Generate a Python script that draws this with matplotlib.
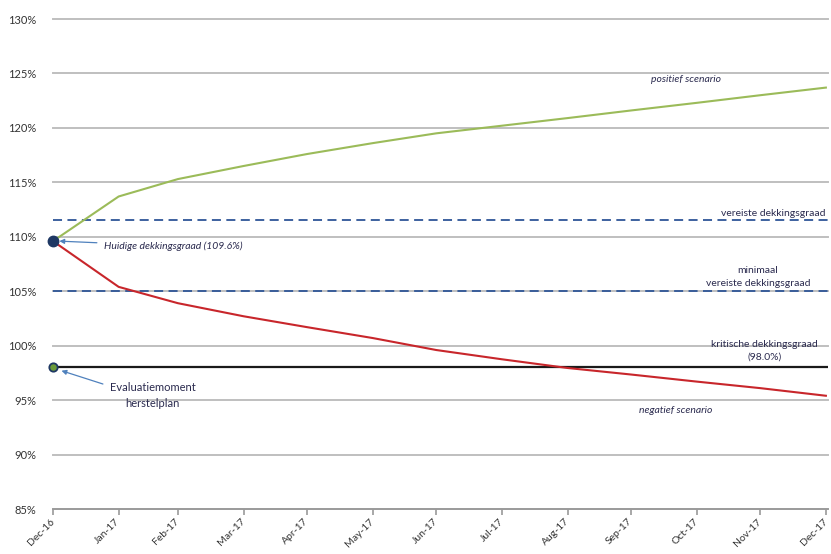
import matplotlib
matplotlib.use("Agg")
import matplotlib.pyplot as plt
import matplotlib.dates as mdates
import pandas as pd
import numpy as np

plt.rcParams['font.family'] = ['Lato', 'DejaVu Sans']

# ---- data ----
month_ends = ["2016-12-31", "2017-01-31", "2017-02-28", "2017-03-31", "2017-04-30",
              "2017-05-31", "2017-06-30", "2017-07-31", "2017-08-31", "2017-09-30",
              "2017-10-31", "2017-11-30", "2017-12-31"]
positief = [109.6, 113.7, 115.3, 116.5, 117.6, 118.6, 119.5, 120.2, 120.9, 121.6, 122.3, 123.0, 123.7]
negatief = [109.6, 105.4, 103.9, 102.7, 101.7, 100.7, 99.6, 98.75, 97.95, 97.35, 96.7, 96.1, 95.4]
vereiste = 111.5
minimaal_vereiste = 105.0
kritische = 98.0
huidige = 109.6
yticks = [85, 90, 95, 100, 105, 110, 115, 120, 125, 130]

dates = pd.to_datetime(month_ends)

fig = plt.figure(figsize=(8.31, 5.54), dpi=100)
ax = fig.add_axes([53/831, 45/554, (828-53)/831, (509-19)/554])

text_col = '#2b2b4f'
grid_col = '#bfbfbf'

for y in yticks:
    if y == 85:
        continue
    ax.axhline(y, color=grid_col, lw=1.4, zorder=1, clip_on=False)

ax.axhline(vereiste, color='#2e5597', lw=1.3, ls=(0, (5, 3)), zorder=2)
ax.axhline(minimaal_vereiste, color='#2e5597', lw=1.3, ls=(0, (5, 3)), zorder=2)
ax.axhline(kritische, color='#1a1a1a', lw=1.6, zorder=2)

ax.plot(dates, positief, color='#9bbb59', lw=1.5, zorder=3)
ax.plot(dates, negatief, color='#c8262b', lw=1.5, zorder=3)

ax.plot([dates[0]], [huidige], 'o', ms=7.5, color='#1f3864', zorder=5, clip_on=False)
ax.plot([dates[0]], [kritische], 'o', ms=6, mfc='#6a9a3a', mec='#1f3864', mew=1.3, zorder=5, clip_on=False)

ax.set_xlim(dates[0], pd.Timestamp("2018-01-01"))
ax.set_ylim(85, 130)
ax.set_yticks(yticks)
ax.set_yticklabels([f"{v}%" for v in yticks], fontsize=8, color='#333333')
ax.set_xticks(dates)
ax.xaxis.set_major_formatter(mdates.DateFormatter('%b-%y'))
for lbl in ax.get_xticklabels():
    lbl.set_rotation(45)
    lbl.set_ha('right')
    lbl.set_va('center')
    lbl.set_rotation_mode('anchor')
    lbl.set_fontsize(7.5)
    lbl.set_color('#333333')

for s in ['top', 'right', 'left']:
    ax.spines[s].set_visible(False)
ax.spines['bottom'].set_color('#9a9a9a')
ax.spines['bottom'].set_linewidth(1.4)
ax.tick_params(axis='y', length=0, pad=12)
ax.tick_params(axis='x', length=4, color='#9a9a9a', width=1.2, pad=4)

# annotations
ax.text(pd.Timestamp("2017-10-26"), 124.0, "positief scenario", style='italic',
        fontsize=7.5, color=text_col, ha='center', va='bottom')
ax.text(pd.Timestamp("2017-12-31"), 111.7, "vereiste dekkingsgraad",
        fontsize=7.5, color=text_col, ha='right', va='bottom')
ax.text(pd.Timestamp("2017-11-29"), 105.3, "minimaal\nvereiste dekkingsgraad",
        fontsize=7.5, color=text_col, ha='center', va='bottom', linespacing=1.5)
ax.text(pd.Timestamp("2017-12-02"), 98.5, "kritische dekkingsgraad\n(98.0%)",
        fontsize=7.5, color=text_col, ha='center', va='bottom', linespacing=1.6)
ax.text(pd.Timestamp("2017-10-21"), 94.5, "negatief scenario", style='italic',
        fontsize=7.5, color=text_col, ha='center', va='top')

ax.annotate("Huidige dekkingsgraad (109.6%)", xy=(pd.Timestamp("2017-01-03"), 109.6),
            xytext=(pd.Timestamp("2017-01-24"), 109.15), style='italic',
            fontsize=7.5, color=text_col, ha='left', va='center',
            arrowprops=dict(arrowstyle='-|>', color='#4f81bd', lw=0.9,
                            mutation_scale=7, shrinkA=3, shrinkB=0))
ax.annotate("Evaluatiemoment\nherstelplan", xy=(pd.Timestamp("2017-01-04"), 97.7),
            xytext=(pd.Timestamp("2017-02-16"), 95.4), fontsize=8,
            color=text_col, ha='center', va='center', linespacing=1.6,
            arrowprops=dict(arrowstyle='-|>', color='#4f81bd', lw=0.9,
                            mutation_scale=7, shrinkA=3, shrinkB=0,
                            relpos=(0.0, 0.85)))

fig.savefig("out.png", dpi=100)
